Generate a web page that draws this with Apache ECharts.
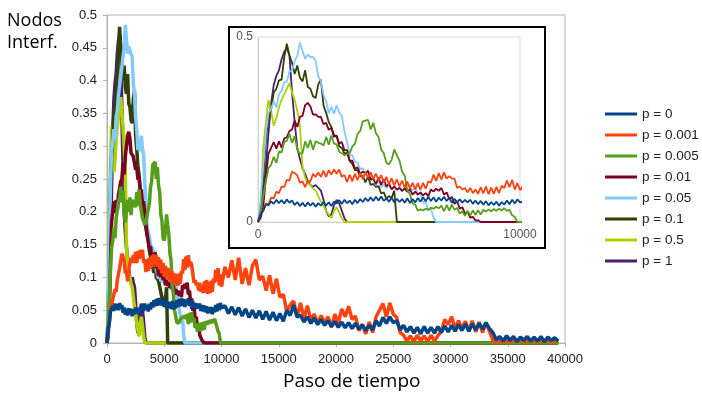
<!DOCTYPE html>
<html>
<head>
<meta charset="utf-8">
<script src="https://cdn.jsdelivr.net/npm/echarts@6/dist/echarts.min.js"></script>
<style>
  html, body { margin: 0; background: #fff; }
  #chart { width: 702px; height: 394px; }
</style>
</head>
<body>
<div id="chart"></div>
<script>
// series names, in legend order
const pLabels = ['p = 0', 'p = 0.001', 'p = 0.005', 'p = 0.01', 'p = 0.05', 'p = 0.1', 'p = 0.5', 'p = 1'];
const colors = ['#004586', '#ff420e', '#579d1c', '#7e0021', '#83caff', '#314004', '#aecf00', '#4b1f6f'];

// early part: t = 0, 100, 200 ... ; late part: t = 10300, 10600 ... 39400
const END_T = 39400;

const p0_early = [
  0, .022, .030, .048, .045, .056, .049, .060, .051, .059,
  .050, .061, .052, .058, .046, .054, .043, .052, .042, .053,
  .044, .052, .041, .051, .044, .054, .045, .053, .043, .055,
  .050, .059, .049, .060, .051, .058, .048, .060, .051, .062,
  .054, .065, .056, .067, .057, .068, .058, .069, .057, .064,
  .055, .066, .053, .063, .054, .062, .052, .064, .051, .062,
  .053, .065, .055, .067, .056, .068, .057, .067, .055, .066,
  .058, .068, .057, .065, .052, .063, .053, .061, .052, .060,
  .053, .060, .049, .058, .048, .057, .047, .056, .045, .054,
  .046, .055, .044, .054, .047, .058, .048, .060, .050, .061,
  .053
];
const p0_late = [
  .057, .045, .055, .043, .054, .041, .052, .039, .050, .038,
  .049, .036, .048, .035, .047, .034, .045, .033, .050, .042,
  .058, .040, .042, .032, .040, .030, .038, .028, .036, .027,
  .034, .025, .033, .024, .032, .023, .031, .022, .030, .021,
  .028, .019, .027, .020, .034, .026, .039, .030, .040, .031,
  .034, .020, .027, .017, .025, .015, .024, .014, .025, .015,
  .024, .015, .025, .016, .026, .017, .027, .018, .028, .019,
  .029, .018, .029, .020, .030, .021, .031, .022, .016, .005,
  .010, .003, .011, .004, .010, .002, .009, .004, .010, .003,
  .009, .003, .010, .002, .009, .004, .008, .003
];

const p001_early = [
  0, .022, .030, .050, .048, .066, .064, .082, .078, .096,
  .094, .114, .112, .136, .132, .126, .106, .110, .094, .112,
  .110, .130, .122, .134, .122, .139, .122, .140, .128, .142,
  .130, .142, .122, .127, .108, .128, .110, .130, .113, .133,
  .116, .135, .119, .134, .116, .131, .112, .127, .106, .122,
  .101, .118, .099, .115, .096, .112, .093, .109, .090, .106,
  .088, .105, .087, .106, .090, .110, .106, .128, .111, .132,
  .115, .134, .117, .124, .118, .117, .092, .096, .088, .092,
  .080, .092, .078, .088, .076, .094, .077, .096, .075, .093,
  .076, .095, .078, .098, .092, .112, .094, .114, .088, .105,
  .086
];
const p001_late = [
  .116, .100, .126, .096, .130, .090, .114, .088, .118, .127,
  .096, .102, .080, .103, .075, .098, .070, .074, .048, .058,
  .064, .040, .061, .037, .057, .034, .044, .030, .042, .031,
  .040, .024, .044, .030, .052, .040, .056, .036, .041, .019,
  .028, .014, .032, .016, .040, .050, .060, .040, .061, .044,
  .039, .016, .012, .003, .011, .002, .012, .003, .011, .002,
  .012, .003, .011, .018, .036, .028, .040, .022, .034, .022,
  .033, .018, .034, .017, .032, .016, .031, .018, .004, .001,
  .005, .001, .006, .001, .004, .002, .006, .001, .005, .002,
  .005, .001, .006, .002, .005, .001, .006, .002
];

// the other runs die out; values every 100 steps until they hit 0
const p005 = [
  0, .030, .070, .110, .145, .155, .176, .160, .190, .188,
  .216, .220, .238, .214, .232, .196, .184, .186, .218, .200,
  .222, .195, .218, .214, .212, .207, .230, .209, .234, .212,
  .210, .190, .186, .180, .184, .186, .204, .212, .238, .246,
  .272, .274, .276, .250, .268, .240, .230, .196, .186, .160,
  .156, .168, .196, .180, .166, .136, .125, .086, .075, .050,
  .047, .031, .034, .031, .036, .033, .039, .036, .041, .037,
  .044, .029, .046, .031, .047, .033, .038, .023, .029, .017,
  .030, .018, .031, .019, .032, .020, .033, .028, .034, .029,
  .035, .030, .036, .031, .037, .030, .033, .018, .014, 0
];
const p01 = [
  0, .010, .040, .120, .185, .200, .216, .198, .218, .201,
  .226, .229, .246, .250, .274, .257, .284, .287, .316, .322,
  .312, .290, .291, .284, .284, .264, .268, .249, .254, .230,
  .234, .212, .216, .194, .194, .166, .166, .144, .148, .130,
  .136, .132, .138, .114, .118, .102, .121, .100, .116, .096,
  .104, .088, .096, .087, .092, .084, .091, .082, .088, .074,
  .082, .074, .080, .072, .078, .070, .088, .082, .090, .084,
  .092, .074, .080, .062, .068, .049, .056, .036, .040, .022,
  .028, .012, .014, .004, .005, 0
];
const p05 = [
  0, .060, .150, .240, .295, .305, .326, .309, .346, .354,
  .378, .379, .406, .409, .436, .449, .485, .462, .441, .452,
  .446, .446, .436, .394, .381, .344, .326, .294, .311, .292,
  .316, .296, .286, .244, .216, .179, .181, .162, .161, .142,
  .146, .126, .141, .114, .116, .098, .114, .094, .101, .092,
  .098, .090, .096, .088, .094, .082, .092, .080, .091, .086,
  .094, .074, .076, .052, .054, .032, .036, .012, 0
];
const p1e1 = [
  0, .040, .120, .220, .285, .305, .350, .360, .383, .385,
  .445, .482, .450, .430, .400, .423, .390, .380, .410, .365,
  .360, .340, .335, .372, .385, .315, .295, .270, .257, .235,
  .233, .205, .200, .185, .187, .165, .157, .140, .140, .123,
  .125, .107, .123, .100, .103, .095, .097, .077, .080, .063,
  .070, .065, .085, 0
];
const p5e1 = [
  0, .020, .200, .270, .330, .300, .260, .280, .310, .330,
  .345, .360, .375, .350, .330, .300, .260, .150, .120, .105,
  .100, .090, .085, .070, .055, .045, .030, .020, .010, .030,
  .040, .025, .010, 0
];
const p1 = [
  0, .020, .080, .150, .240, .320, .370, .395, .410, .440,
  .460, .470, .450, .350, .270, .200, .170, .145, .130, .110,
  .100, .095, .100, .092, .085, .060, .030, .015, .020, .045,
  .060, .050, .030, .010, 0
];

function pairs(vals, t0, dt) {
  return vals.map(function (v, i) { return [t0 + i * dt, v]; });
}

const seriesData = [
  pairs(p0_early, 0, 100).concat(pairs(p0_late, 10300, 300)),
  pairs(p001_early, 0, 100).concat(pairs(p001_late, 10300, 300)),
  pairs(p005, 0, 100).concat([[END_T, 0]]),
  pairs(p01, 0, 100).concat([[END_T, 0]]),
  pairs(p05, 0, 100).concat([[END_T, 0]]),
  pairs(p1e1, 0, 100).concat([[END_T, 0]]),
  pairs(p5e1, 0, 100).concat([[END_T, 0]]),
  pairs(p1, 0, 100).concat([[END_T, 0]])
];

function mkSeries(i, main) {
  return {
    name: pLabels[i],
    type: 'line',
    xAxisIndex: main ? 0 : 1,
    yAxisIndex: main ? 0 : 1,
    data: seriesData[i],
    showSymbol: false,
    symbol: 'none',
    silent: true,
    z: main ? 2 : 12,
    itemStyle: { color: colors[i] },
    lineStyle: { color: colors[i], width: main ? 3.5 : 1.8 }
  };
}

const series = [];
for (let i = 7; i >= 0; i--) series.push(mkSeries(i, true));
for (let i = 7; i >= 0; i--) series.push(mkSeries(i, false));

const fmt = function (v) { return String(+v.toFixed(2)); };
const plain = function (v) { return String(v); };
const grey = '#b3b3b3';

const chart = echarts.init(document.getElementById('chart'));
chart.setOption({
  animation: false,
  backgroundColor: '#fff',
  textStyle: { fontFamily: 'Liberation Sans' },
  title: {
    text: 'Nodos\nInterf.',
    left: 2, top: 5,
    textStyle: { fontFamily: 'Open Sans', fontSize: 18, fontWeight: 'normal', color: '#000', lineHeight: 22 }
  },
  legend: {
    data: pLabels,
    orient: 'vertical',
    left: 600, top: 102,
    icon: 'rect',
    itemWidth: 32, itemHeight: 3, itemGap: 7,
    textStyle: { fontSize: 13.5, color: '#222' }
  },
  grid: [
    { left: 107, top: 15, width: 458, height: 328, show: true, borderColor: grey, borderWidth: 1 },
    { left: 258, top: 37, width: 262, height: 185, show: true, borderColor: '#d9d9d9', borderWidth: 1, backgroundColor: '#fff', z: 11 }
  ],
  xAxis: [
    {
      type: 'value', gridIndex: 0, min: 0, max: 40000, interval: 5000,
      axisLine: { show: true, lineStyle: { color: grey } },
      axisTick: { show: true, length: 4, lineStyle: { color: grey } },
      axisLabel: { color: '#222', fontSize: 13, margin: 10, formatter: plain },
      splitLine: { show: false }
    },
    {
      type: 'value', gridIndex: 1, min: 0, max: 10000, interval: 10000, z: 11,
      axisLine: { show: true, lineStyle: { color: '#d0d0d0' } },
      axisTick: { show: false },
      axisLabel: { color: '#555', fontSize: 12, margin: 7, formatter: plain },
      splitLine: { show: false }
    }
  ],
  yAxis: [
    {
      type: 'value', gridIndex: 0, min: 0, max: 0.5, interval: 0.05,
      axisLine: { show: true, lineStyle: { color: grey } },
      axisTick: { show: true, length: 4, lineStyle: { color: grey } },
      axisLabel: { color: '#222', fontSize: 13, margin: 10, formatter: fmt },
      splitLine: { show: false }
    },
    {
      type: 'value', gridIndex: 1, min: 0, max: 0.5, interval: 0.5, z: 11,
      axisLine: { show: true, lineStyle: { color: '#d0d0d0' } },
      axisTick: { show: false },
      axisLabel: { color: '#555', fontSize: 12, margin: 5, formatter: fmt },
      splitLine: { show: false }
    }
  ],
  graphic: [
    {
      type: 'rect', z: 10,
      shape: { x: 229, y: 27, width: 316, height: 221 },
      style: { fill: '#fff', stroke: '#000', lineWidth: 2 }
    },
    {
      type: 'text', z: 10,
      style: { text: 'Paso de tiempo', x: 283, y: 382, verticalAlign: 'middle', font: '19px "Open Sans"', fill: '#000' }
    }
  ],
  series: series
});
</script>
</body>
</html>
